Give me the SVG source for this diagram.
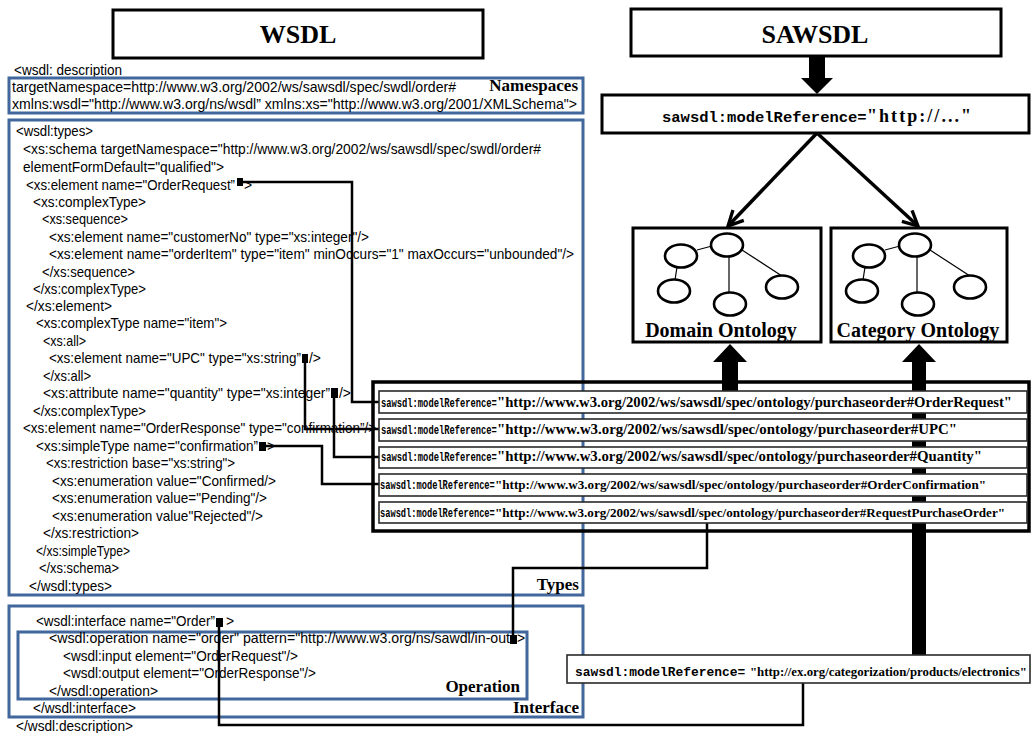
<svg xmlns="http://www.w3.org/2000/svg" width="1031" height="733" viewBox="0 0 1031 733">
  <style>
    .code { font-family: "Liberation Sans", Arial, sans-serif; font-size: 13.9px; fill: #000; }
    .tag { font-family: "Liberation Serif", "Times New Roman", serif; font-weight: bold; font-size: 17px; text-anchor: end; fill: #000; }
    .title { font-family: "Liberation Serif", "Times New Roman", serif; font-weight: bold; font-size: 26px; text-anchor: middle; fill: #000; }
    .onto { font-family: "Liberation Serif", "Times New Roman", serif; font-weight: bold; font-size: 20px; text-anchor: middle; fill: #000; }
    .mono { font-family: "Liberation Mono", "Courier New", monospace; font-weight: bold; fill: #000; }
    .url { font-family: "Liberation Serif", "Times New Roman", serif; font-weight: bold; fill: #000; }
    .blue { fill: none; stroke: #41679c; stroke-width: 3; }
    .frame { fill: #fff; stroke: #000; stroke-width: 3; }
    .row { fill: #fff; stroke: #2a2a2a; stroke-width: 1.6; }
    .conn { fill: none; stroke: #000; stroke-width: 2.5; }
    .pin { fill: #000; }
    .node { fill: #fff; stroke: #000; stroke-width: 2.6; }
    .edge { stroke: #000; stroke-width: 1.2; }
    .fat { fill: #000; }
  </style>
  <defs>
    <marker id="open" viewBox="0 0 12 12" refX="11" refY="6" markerWidth="18" markerHeight="18" markerUnits="userSpaceOnUse" orient="auto">
      <path d="M1,1 L11,6 L1,11" fill="none" stroke="#000" stroke-width="2.2"/>
    </marker>
    <!-- small ontology tree reused in both ontology boxes -->
    <g id="tree">
      <line class="edge" x1="697" y1="250" x2="712" y2="246"/>
      <line class="edge" x1="729" y1="256" x2="729" y2="293"/>
      <line class="edge" x1="742" y1="250" x2="782" y2="276"/>
      <line class="edge" x1="677" y1="267" x2="675" y2="280"/>
      <ellipse class="node" cx="727" cy="245" rx="16" ry="11.5"/>
      <ellipse class="node" cx="681" cy="256" rx="16" ry="11.5"/>
      <ellipse class="node" cx="674" cy="291" rx="16" ry="11.5"/>
      <ellipse class="node" cx="730" cy="304" rx="16" ry="11.5"/>
      <ellipse class="node" cx="782" cy="287" rx="16" ry="11.5"/>
    </g>
  </defs>

  <rect width="1031" height="733" fill="#fff"/>

  <!-- WSDL side -->
  <g id="wsdl-title">
    <rect class="frame" x="113" y="10" width="370" height="48"/>
    <text class="title" x="298" y="43">WSDL</text>
  </g>

  <text class="code" x="14" y="75" textLength="108" lengthAdjust="spacingAndGlyphs">&lt;wsdl: description</text>

  <g id="namespaces">
    <rect class="blue" x="9" y="78" width="574" height="35"/>
    <text class="code" x="12" y="92" textLength="444" lengthAdjust="spacingAndGlyphs">targetNamespace=http://www.w3.org/2002/ws/sawsdl/spec/swdl/order#</text>
    <text class="code" x="12" y="109" textLength="565" lengthAdjust="spacingAndGlyphs">xmlns:wsdl="http://www.w3.org/ns/wsdl” xmlns:xs="http://www.w3.org/2001/XMLSchema"&gt;</text>
    <text class="tag" x="578" y="91">Namespaces</text>
  </g>

  <g id="types">
    <rect class="blue" x="9" y="120" width="574" height="475"/>
    <text class="code" x="16" y="136" textLength="77" lengthAdjust="spacingAndGlyphs">&lt;wsdl:types&gt;</text>
    <text class="code" x="23" y="154" textLength="518" lengthAdjust="spacingAndGlyphs">&lt;xs:schema targetNamespace="http://www.w3.org/2002/ws/sawsdl/spec/swdl/order#</text>
    <text class="code" x="23" y="172" textLength="201" lengthAdjust="spacingAndGlyphs">elementFormDefault="qualified"&gt;</text>
    <text class="code" x="26" y="190" textLength="209" lengthAdjust="spacingAndGlyphs">&lt;xs:element name="OrderRequest”</text>
    <text class="code" x="244" y="190">&gt;</text>
    <text class="code" x="33" y="207" textLength="113" lengthAdjust="spacingAndGlyphs">&lt;xs:complexType&gt;</text>
    <text class="code" x="42" y="224" textLength="86" lengthAdjust="spacingAndGlyphs">&lt;xs:sequence&gt;</text>
    <text class="code" x="49" y="242" textLength="320" lengthAdjust="spacingAndGlyphs">&lt;xs:element name="customerNo" type="xs:integer"/&gt;</text>
    <text class="code" x="49" y="259" textLength="525" lengthAdjust="spacingAndGlyphs">&lt;xs:element name="orderItem" type="item" minOccurs="1" maxOccurs="unbounded"/&gt;</text>
    <text class="code" x="42" y="277" textLength="93" lengthAdjust="spacingAndGlyphs">&lt;/xs:sequence&gt;</text>
    <text class="code" x="33" y="294" textLength="113" lengthAdjust="spacingAndGlyphs">&lt;/xs:complexType&gt;</text>
    <text class="code" x="26" y="311" textLength="86" lengthAdjust="spacingAndGlyphs">&lt;/xs:element&gt;</text>
    <text class="code" x="36" y="328" textLength="191" lengthAdjust="spacingAndGlyphs">&lt;xs:complexType name="item"&gt;</text>
    <text class="code" x="43" y="346" textLength="43" lengthAdjust="spacingAndGlyphs">&lt;xs:all&gt;</text>
    <text class="code" x="49" y="363" textLength="252" lengthAdjust="spacingAndGlyphs">&lt;xs:element name="UPC" type="xs:string”</text>
    <text class="code" x="309" y="363">/&gt;</text>
    <text class="code" x="43" y="381" textLength="48" lengthAdjust="spacingAndGlyphs">&lt;/xs:all&gt;</text>
    <text class="code" x="43" y="398" textLength="287" lengthAdjust="spacingAndGlyphs">&lt;xs:attribute name="quantity" type="xs:integer”</text>
    <text class="code" x="339" y="398">/&gt;</text>
    <text class="code" x="33" y="416" textLength="113" lengthAdjust="spacingAndGlyphs">&lt;/xs:complexType&gt;</text>
    <text class="code" x="23" y="433" textLength="353" lengthAdjust="spacingAndGlyphs">&lt;xs:element name="OrderResponse" type="confirmation”/&gt;</text>
    <text class="code" x="36" y="451" textLength="222" lengthAdjust="spacingAndGlyphs">&lt;xs:simpleType name="confirmation”</text>
    <text class="code" x="267" y="451">&gt;</text>
    <text class="code" x="46" y="468" textLength="189" lengthAdjust="spacingAndGlyphs">&lt;xs:restriction base="xs:string"&gt;</text>
    <text class="code" x="52" y="486" textLength="224" lengthAdjust="spacingAndGlyphs">&lt;xs:enumeration value="Confirmed/&gt;</text>
    <text class="code" x="52" y="503" textLength="215" lengthAdjust="spacingAndGlyphs">&lt;xs:enumeration value="Pending"/&gt;</text>
    <text class="code" x="52" y="521" textLength="211" lengthAdjust="spacingAndGlyphs">&lt;xs:enumeration value"Rejected"/&gt;</text>
    <text class="code" x="43" y="538" textLength="96" lengthAdjust="spacingAndGlyphs">&lt;/xs:restriction&gt;</text>
    <text class="code" x="36" y="556" textLength="94" lengthAdjust="spacingAndGlyphs">&lt;/xs:simpleType&gt;</text>
    <text class="code" x="39" y="573" textLength="80" lengthAdjust="spacingAndGlyphs">&lt;/xs:schema&gt;</text>
    <text class="code" x="29" y="591" textLength="83" lengthAdjust="spacingAndGlyphs">&lt;/wsdl:types&gt;</text>
    <text class="tag" x="579" y="590">Types</text>
  </g>

  <g id="interface">
    <rect class="blue" x="9" y="606" width="574" height="111"/>
    <text class="code" x="36" y="626" textLength="179" lengthAdjust="spacingAndGlyphs">&lt;wsdl:interface name="Order”</text>
    <text class="code" x="226" y="626">&gt;</text>
    <text class="code" x="33" y="713" textLength="103" lengthAdjust="spacingAndGlyphs">&lt;/wsdl:interface&gt;</text>
    <text class="tag" x="579" y="713">Interface</text>
  </g>

  <g id="operation">
    <rect class="blue" x="18" y="632" width="509" height="67" stroke-width="2.6"/>
    <text class="code" x="49" y="643" textLength="461" lengthAdjust="spacingAndGlyphs">&lt;wsdl:operation name="order" pattern="http://www.w3.org/ns/sawdl/in-out</text>
    <text class="code" x="517" y="643">&gt;</text>
    <text class="code" x="63" y="661" textLength="235" lengthAdjust="spacingAndGlyphs">&lt;wsdl:input element="OrderRequest"/&gt;</text>
    <text class="code" x="63" y="678" textLength="253" lengthAdjust="spacingAndGlyphs">&lt;wsdl:output element="OrderResponse"/&gt;</text>
    <text class="code" x="49" y="696" textLength="109" lengthAdjust="spacingAndGlyphs">&lt;/wsdl:operation&gt;</text>
    <text class="tag" x="520" y="692">Operation</text>
  </g>

  <text class="code" x="16" y="731" textLength="117" lengthAdjust="spacingAndGlyphs">&lt;/wsdl:description&gt;</text>

  <!-- SAWSDL side -->
  <g id="sawsdl-title">
    <rect class="frame" x="631" y="9" width="370" height="47"/>
    <text class="title" x="815" y="43">SAWSDL</text>
  </g>

  <g id="model-reference">
    <rect class="frame" x="602" y="95" width="427" height="38" stroke-width="2.5"/>
    <text class="mono" x="662" y="122" font-size="15.5">sawsdl:modelReference=</text>
    <text class="url" x="867" y="122" font-size="18" textLength="104" lengthAdjust="spacing">"http://..."</text>
  </g>

  <g id="domain-ontology">
    <rect class="frame" x="633" y="228" width="188" height="114"/>
    <use href="#tree"/>
    <text class="onto" x="721" y="337">Domain Ontology</text>
  </g>

  <g id="category-ontology">
    <rect class="frame" x="831" y="228" width="176" height="114"/>
    <use href="#tree" transform="translate(188,0)"/>
    <text class="onto" x="918" y="337">Category Ontology</text>
  </g>

  <!-- connectors -->
  <g id="connectors">
    <!-- block arrows -->
    <polygon class="fat" points="809,56 825,56 825,78 833,78 817,94 801,78 809,78"/>
    <polygon class="fat" points="722,392 738,392 738,362 747,362 730,344 713,362 722,362"/>
    <polygon class="fat" points="912,655 926,655 926,362 936,362 919,344 902,362 912,362"/>
    <!-- model reference to both ontologies -->
    <line x1="817" y1="133" x2="728" y2="226" stroke="#000" stroke-width="3.5" marker-end="url(#open)"/>
    <line x1="817" y1="133" x2="918" y2="226" stroke="#000" stroke-width="3.5" marker-end="url(#open)"/>
    <!-- annotation links -->
    <polyline class="conn" points="243,182 352,182 352,402 380,402"/>
    <polyline class="conn" points="305,362 305,429 380,429"/>
    <polyline class="conn" points="334,397 334,457 380,457"/>
    <polyline class="conn" points="266,446 322,446 322,484 380,484"/>
    <polyline class="conn" points="707,523 707,568 513,568 513,638"/>
    <polyline class="conn" points="219,626 219,725 803,725 803,683"/>
    <!-- anchor squares -->
    <rect class="pin" x="237" y="178" width="6" height="8"/>
    <rect class="pin" x="302" y="354" width="6" height="9"/>
    <rect class="pin" x="331" y="388" width="7" height="10"/>
    <rect class="pin" x="259" y="442" width="7" height="9"/>
    <rect class="pin" x="216" y="618" width="7" height="9"/>
    <rect class="pin" x="510" y="635" width="7" height="9"/>
  </g>

  <g id="annotations">
    <rect x="373" y="382" width="656" height="149" fill="none" stroke="#000" stroke-width="3.5"/>
    <rect class="row" x="379" y="391" width="648" height="22"/>
    <rect class="row" x="379" y="419" width="648" height="22"/>
    <rect class="row" x="379" y="447" width="648" height="21"/>
    <rect class="row" x="379" y="474" width="648" height="22"/>
    <rect class="row" x="379" y="502" width="648" height="21"/>
    <!-- condensed monospace prefix: 22 glyphs of 0.6em at 13px squeezed to 116px -->
    <text class="mono" font-size="13" transform="translate(381,407) scale(0.676,1)">sawsdl:modelReference=</text>
    <text class="url" x="497" y="407" font-size="14.6" textLength="515" lengthAdjust="spacingAndGlyphs">"http://www.w3.org/2002/ws/sawsdl/spec/ontology/purchaseorder#OrderRequest"</text>
    <text class="mono" font-size="13" transform="translate(381,434) scale(0.676,1)">sawsdl:modelReference=</text>
    <text class="url" x="497" y="434" font-size="14.6" textLength="460" lengthAdjust="spacingAndGlyphs">"http://www.w3.org/2002/ws/sawsdl/spec/ontology/purchaseorder#UPC"</text>
    <text class="mono" font-size="13" transform="translate(381,461) scale(0.676,1)">sawsdl:modelReference=</text>
    <text class="url" x="497" y="461" font-size="14.6" textLength="485" lengthAdjust="spacingAndGlyphs">"http://www.w3.org/2002/ws/sawsdl/spec/ontology/purchaseorder#Quantity"</text>
    <text class="mono" font-size="13" transform="translate(380,489) scale(0.67,1)">sawsdl:modelReference=</text>
    <text class="url" x="495" y="489" font-size="12.9" textLength="491" lengthAdjust="spacingAndGlyphs">"http://www.w3.org/2002/ws/sawsdl/spec/ontology/purchaseorder#OrderConfirmation"</text>
    <text class="mono" font-size="13" transform="translate(380,517) scale(0.67,1)">sawsdl:modelReference=</text>
    <text class="url" x="495" y="517" font-size="12.9" textLength="510" lengthAdjust="spacingAndGlyphs">"http://www.w3.org/2002/ws/sawsdl/spec/ontology/purchaseorder#RequestPurchaseOrder"</text>
  </g>

  <g id="category-reference">
    <rect class="row" x="567" y="655" width="463" height="28"/>
    <text class="mono" x="575" y="676" font-size="12.9">sawsdl:modelReference=</text>
    <text class="url" x="750" y="676" font-size="12.8" textLength="277" lengthAdjust="spacingAndGlyphs">"http://ex.org/categorization/products/electronics"</text>
  </g>
</svg>
